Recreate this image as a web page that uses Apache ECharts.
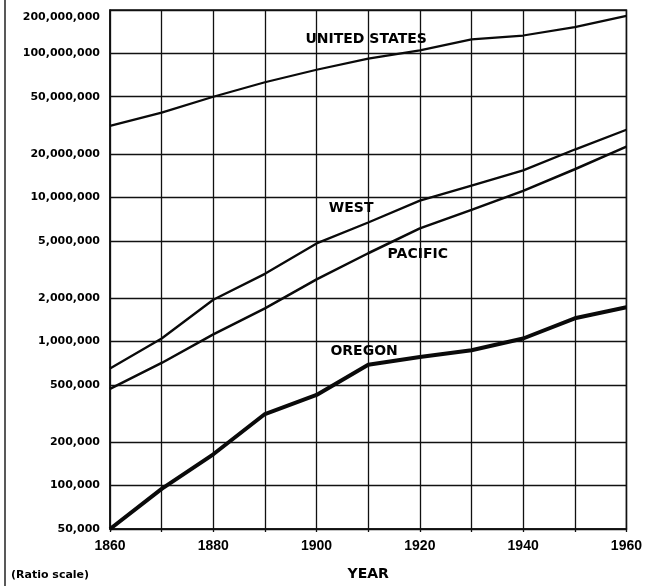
<!DOCTYPE html>
<html>
<head>
<meta charset="utf-8">
<script src="https://cdn.jsdelivr.net/npm/echarts@6/dist/echarts.min.js"></script>
<style>
  html, body { margin: 0; padding: 0; background: #fff; }
  #main { width: 645px; height: 586px; }
</style>
</head>
<body>
<div id="main"></div>
<script>
// census years
const years = [1860, 1870, 1880, 1890, 1900, 1910, 1920, 1930, 1940, 1950, 1960];
// population
const unitedStates = [31400000, 38800000, 50000000, 63000000, 77000000, 92000000, 105000000, 125000000, 133000000, 152000000, 182000000];
const west = [650000, 1050000, 1950000, 2950000, 4800000, 6700000, 9500000, 12100000, 15400000, 21500000, 29500000];
const pacific = [470000, 710000, 1120000, 1700000, 2700000, 4100000, 6100000, 8200000, 11100000, 15700000, 22500000];
const oregon = [50000, 95000, 165000, 314000, 426000, 690000, 780000, 870000, 1050000, 1450000, 1730000];
// y tick values (1-2-5 ratio steps)
const yTicks = [50000, 100000, 200000, 500000, 1000000, 2000000, 5000000, 10000000, 20000000, 50000000, 100000000, 200000000];
// series name labels [year, value, text]
const seriesLabels = [
  [1909.6, 125000000, 'UNITED STATES'],
  [1906.7, 8400000, 'WEST'],
  [1919.6, 4060000, 'PACIFIC'],
  [1909.2, 850000, 'OREGON']
];

const chart = echarts.init(document.getElementById('main'));

const pair = (vals) => years.map((y, i) => [y, vals[i]]);
const lineSeries = (name, vals, w) => ({
  name: name,
  type: 'line',
  data: pair(vals),
  symbol: 'none',
  lineStyle: { color: '#0a0a0a', width: w },
  z: 5
});

const option = {
  animation: false,
  backgroundColor: '#fff',
  textStyle: { fontFamily: 'DejaVu Sans' },
  grid: {
    left: 110, right: 15, top: 10, bottom: 57,
    show: true, borderColor: '#111', borderWidth: 1.5
  },
  xAxis: {
    type: 'value',
    min: 1860, max: 1960, interval: 10,
    name: 'YEAR',
    nameLocation: 'middle',
    nameGap: 38,
    nameTextStyle: { fontFamily: 'DejaVu Sans', fontWeight: 'bold', fontSize: 14, color: '#000' },
    axisLine: { show: true, lineStyle: { color: '#111', width: 1.5 } },
    axisTick: { show: true, length: 3, lineStyle: { color: '#111', width: 1.3 } },
    axisLabel: {
      color: '#000', fontFamily: 'Liberation Sans', fontWeight: 'bold', fontSize: 14, margin: 10,
      formatter: (v) => (v % 20 === 0 ? String(v) : '')
    },
    splitLine: { show: true, lineStyle: { color: '#111', width: 1.3 } }
  },
  yAxis: {
    type: 'log',
    logBase: 10,
    min: 50000, max: 200000000,
    axisLine: { show: true, lineStyle: { color: '#111', width: 1.5 } },
    axisTick: { show: false, customValues: yTicks },
    axisLabel: {
      customValues: yTicks,
      color: '#000', fontFamily: 'DejaVu Sans', fontWeight: 'bold', fontSize: 11, margin: 10,
      formatter: (v) => {
        const s = Math.round(v).toLocaleString('en-US');
        return v >= 200000000 ? '{top|' + s + '}' : s;
      },
      rich: {
        top: { color: '#000', fontFamily: 'DejaVu Sans', fontWeight: 'bold', fontSize: 11, padding: [14, 0, 0, 0] }
      }
    },
    splitLine: { show: true, lineStyle: { color: '#111', width: 1.3 } }
  },
  graphic: [
    { type: 'line', shape: { x1: 5, y1: 0, x2: 5, y2: 586 }, style: { stroke: '#222', lineWidth: 1.5 } },
    { type: 'text', left: 11, top: 570, style: { text: '(Ratio scale)', fontFamily: 'DejaVu Sans', fontWeight: 'bold', fontSize: 11, fill: '#000' } }
  ],
  series: [
    lineSeries('UNITED STATES', unitedStates, 2.2),
    lineSeries('WEST', west, 2.3),
    lineSeries('PACIFIC', pacific, 2.5),
    lineSeries('OREGON', oregon, 4),
    {
      type: 'scatter',
      data: seriesLabels.map(d => ({ value: [d[0], d[1]], name: d[2] })),
      symbolSize: 0,
      silent: true,
      z: 6,
      itemStyle: { opacity: 1 },
      label: {
        show: true, position: 'inside', formatter: '{b}',
        color: '#000', textBorderWidth: 0,
        fontFamily: 'DejaVu Sans', fontWeight: 'bold', fontSize: 14
      }
    }
  ]
};

chart.setOption(option);
</script>
</body>
</html>
